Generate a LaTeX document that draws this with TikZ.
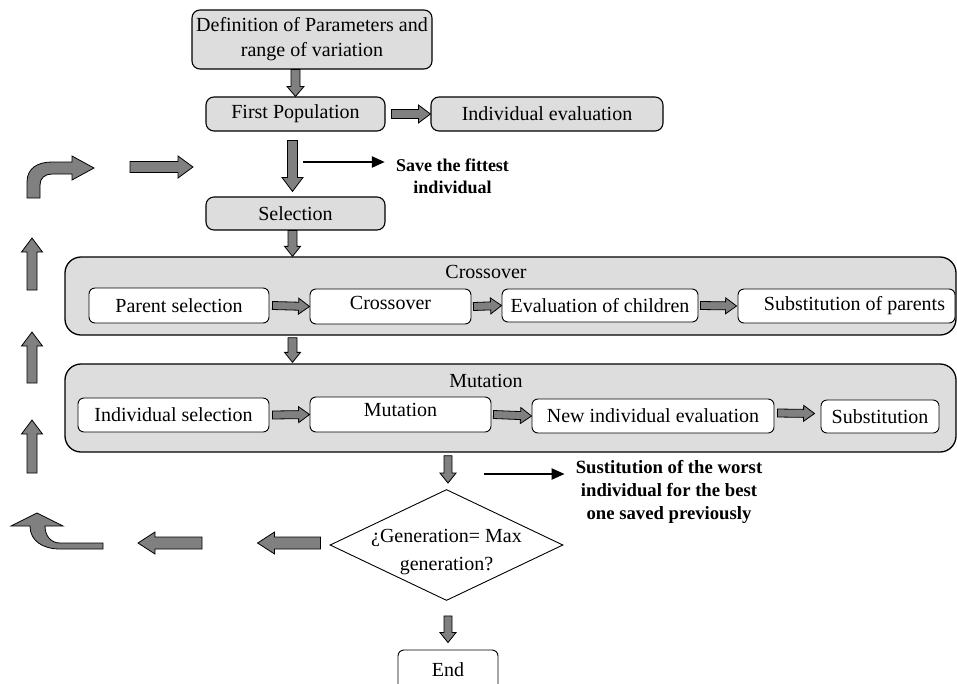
\documentclass[tikz,border=0pt]{standalone}
\usepackage{fontspec}
\setmainfont{Liberation Serif}
\usetikzlibrary{shapes.geometric,calc,arrows.meta}
\definecolor{boxgray}{RGB}{221,221,221}
\definecolor{arrgray}{RGB}{128,128,128}
\newcommand\blockarr[5]{%
  \path #1 coordinate (ba1) #2 coordinate (ba2);
  \pgfpointdiff{\pgfpointanchor{ba1}{center}}{\pgfpointanchor{ba2}{center}}%
  \pgfgetlastxy{\BAdx}{\BAdy}%
  \pgfmathsetmacro\BAlen{veclen(\BAdx,\BAdy)}%
  \pgfmathsetmacro\BAang{atan2(\BAdy,\BAdx)}%
  \draw[blockarrow, shift={(ba1)}, rotate=\BAang]
    (0pt,-#3pt) -- ({\BAlen pt-#5pt},-#3pt) -- ({\BAlen pt-#5pt},-#4pt)
    -- (\BAlen pt,0pt) -- ({\BAlen pt-#5pt},#4pt) -- ({\BAlen pt-#5pt},#3pt)
    -- (0pt,#3pt) -- cycle;
}
\tikzset{
  graybox/.style={draw, rounded corners=8pt, fill=boxgray, line width=1.1pt, inner sep=0pt, align=center},
  whitebox/.style={draw, rounded corners=6pt, fill=white, line width=0.9pt, inner sep=0pt, align=center},
  container/.style={draw, rounded corners=16pt, fill=boxgray, line width=1.3pt},
  blockarrow/.style={draw=black, fill=arrgray, line width=0.8pt, line join=miter},
  thinarrow/.style={line width=2.4pt, -{Triangle[length=13pt,width=11pt]}},
  lbl/.style={font=\bfseries\fontsize{18.7}{23}\selectfont, align=center, inner sep=3pt},
  title/.style={inner sep=1pt}
}
\begin{document}
\begin{tikzpicture}[x=1pt, y=-1pt, font=\fontsize{20}{25}\selectfont]
\useasboundingbox (0,0) rectangle (957,683);
\clip (0,0) rectangle (957,683);

% top part
\node[graybox, minimum width=240pt, minimum height=59pt] (def) at (312,39.5) {Definition of Parameters and\\range of variation};
\node[graybox, minimum width=179pt, minimum height=34pt] (fp) at (295.5,114) {First Population};
\node[graybox, minimum width=232pt, minimum height=34pt] (ie) at (547,114) {Individual evaluation};
\node[graybox, minimum width=179pt, minimum height=33pt] (sel) at (295.5,213.5) {Selection};
\node[lbl, font=\bfseries\fontsize{18}{22}\selectfont] (save) at (452.5,176) {Save the fittest\\individual};

% crossover
\node[container, minimum width=891pt, minimum height=78pt] (xcont) at (510.5,296) {};
\node[title] (xt) at (486,272) {Crossover};
\node[whitebox, minimum width=180pt, minimum height=35pt] (ps) at (179,305.5) {Parent selection};
\node[whitebox, minimum width=161pt, minimum height=35pt, label={[yshift=4pt]center:Crossover}] (co) at (390.5,306.5) {};
\node[whitebox, minimum width=196pt, minimum height=33pt] (ec) at (600,305.5) {Evaluation of children};
\node[whitebox, minimum width=217pt, minimum height=34pt] (sp) at (846.5,306) {\hspace*{16pt}Substitution of parents};

% mutation
\node[container, minimum width=891pt, minimum height=88pt] (mcont) at (510.5,408) {};
\node[title] (mt) at (486,381) {Mutation};
\node[whitebox, minimum width=191pt, minimum height=34pt] (is) at (173.5,415) {Individual selection};
\node[whitebox, minimum width=181pt, minimum height=35pt, label={[yshift=4.5pt]center:Mutation}] (mu) at (400.5,414.5) {};
\node[whitebox, minimum width=242pt, minimum height=34pt] (nie) at (653,416) {New individual evaluation};
\node[whitebox, minimum width=118pt, minimum height=33pt] (sub) at (880,416.5) {Substitution};

% decision and end
\node[draw, diamond, fill=white, minimum width=233pt, minimum height=111pt, inner sep=0pt, line width=0.9pt,
  label={[align=center, yshift=-7pt, font=\fontsize{20}{28}\selectfont]center:¿Generation= Max\\generation?}] (dec) at (446.5,545) {};
\node[whitebox, minimum width=100pt, minimum height=40pt] (end) at (448,670) {End};
\node[lbl] (sust) at (669,492) {Sustitution of the worst\\individual for the best\\one saved previously};

% block arrows of the main flow
\blockarr{(fp.north|-def.south)}{(fp.north)}{4.5}{8.5}{10}
\blockarr{($(fp.east)+(6,0)$)}{(ie.west)}{4.5}{9}{12}
\blockarr{($(fp.south)+(-3,9)$)}{($(sel.north)+(-3,-5)$)}{5}{10.5}{14}
\blockarr{($(sel.south)+(-3,0)$)}{($(sel.south|-xcont.north)+(-3,0)$)}{4.5}{8}{10}
\blockarr{($(ps.east)+(3,0)$)}{(co.west)}{4}{8}{11}
\blockarr{($(co.east)+(2,0)$)}{(ec.west)}{4}{8}{11}
\blockarr{($(ec.east)+(2,0)$)}{($(sp.west)+(-1,0)$)}{4}{8}{11}
\blockarr{($(sel.south|-xcont.south)+(-3,2)$)}{($(sel.south|-mcont.north)+(-3,-1)$)}{4.5}{8}{10}
\blockarr{($(is.east)+(3,0)$)}{(mu.west)}{4}{8}{11}
\blockarr{($(mu.east)+(2,0)$)}{(nie.west)}{4}{8}{11}
\blockarr{($(nie.east)+(3,-3)$)}{($(sub.west)+(-6,-3)$)}{4}{8}{11}
\blockarr{($(dec.north|-mcont.south)+(1.5,3)$)}{($(dec.north)+(1.5,-6)$)}{4}{8}{10}
\blockarr{($(dec.south)+(1.5,15)$)}{($(end.north)+(0,-7)$)}{4}{8}{10}

% thin arrows to the labels
\coordinate (s1) at (303,162);
\draw[thinarrow, shorten >=8pt] (s1) -- (save.west|-s1);
\coordinate (s2) at (484,474);
\draw[thinarrow, shorten >=8pt] (s2) -- (sust.west|-s2);

% return loop on the left
\blockarr{($(dec.west)+(-9,-2)$)}{($(dec.west)+(-72,-2)$)}{6}{11}{17}
\blockarr{(202,543)}{(138,543)}{6}{11}{17}
\draw[blockarrow] (103,543) -- (60,543) .. controls (51,543) and (45,536) .. (45,526)
  -- (63,526) -- (37,513) -- (11,526) -- (30,526)
  .. controls (30,541) and (43,549) .. (60,549) -- (103,549) -- cycle;
\blockarr{(32,473)}{(32,420)}{5}{10.5}{14}
\blockarr{(32,383)}{(32,332)}{5}{10.5}{14}
\blockarr{(32,290)}{(32,238)}{5}{10.5}{14}
\draw[blockarrow] (27,198) -- (27,182) .. controls (27,168) and (38,162) .. (52,162)
  -- (72,162) -- (72,156) -- (94,168) -- (72,180) -- (72,174) -- (52,174)
  .. controls (45,174) and (40,178) .. (40,185) -- (40,198) -- cycle;
\blockarr{(130,167)}{(193,167)}{5.5}{11}{15}
\end{tikzpicture}
\end{document}
